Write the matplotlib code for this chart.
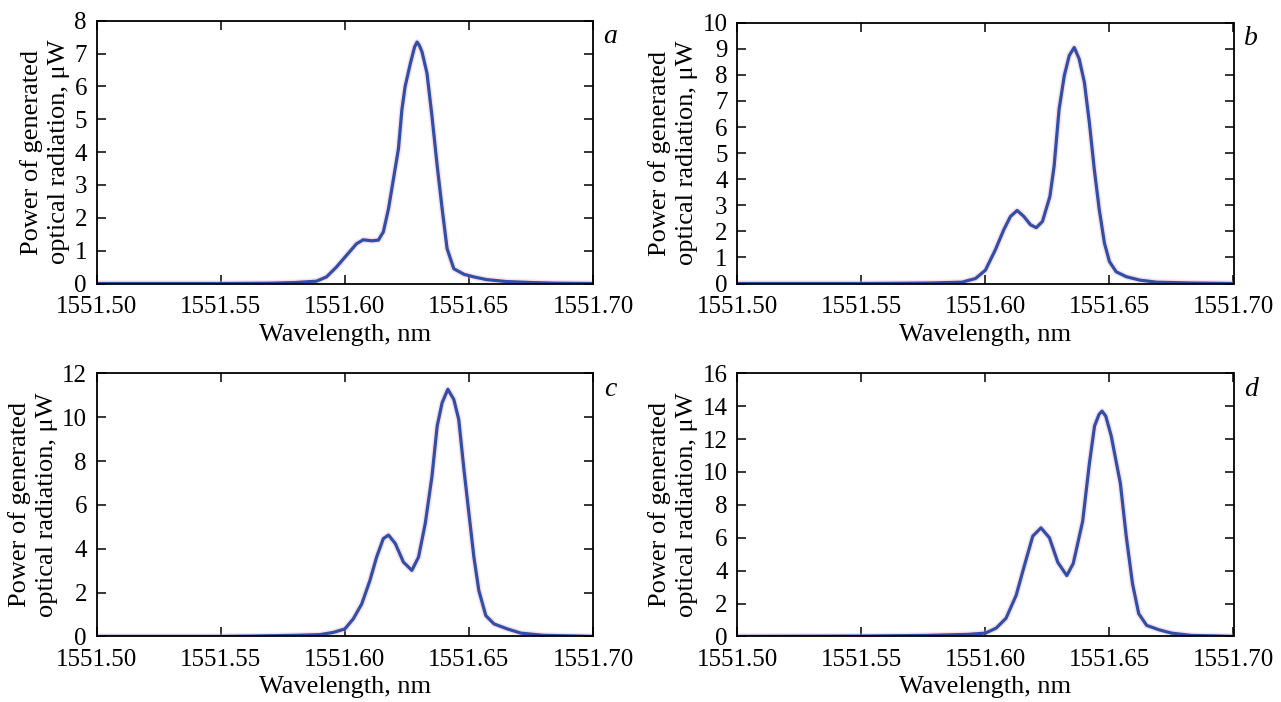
import matplotlib
matplotlib.use("Agg")
import matplotlib.pyplot as plt

plt.rcParams['font.family'] = ['Liberation Serif', 'DejaVu Serif']

# ---- data ----
x_ticks = [1551.50, 1551.55, 1551.60, 1551.65, 1551.70]
x_tick_labels = ["1551.50", "1551.55", "1551.60", "1551.65", "1551.70"]

lam_a = [1551.500, 1551.550, 1551.570, 1551.580, 1551.5885, 1551.5926, 1551.5966, 1551.6007,
         1551.6047, 1551.6074, 1551.6108, 1551.6135, 1551.6155, 1551.6176, 1551.6196, 1551.6216,
         1551.6230, 1551.6243, 1551.6264, 1551.6281, 1551.6291, 1551.6300, 1551.6311, 1551.6331,
         1551.6351, 1551.6372, 1551.6392, 1551.6412, 1551.6439, 1551.6480, 1551.6520, 1551.6570,
         1551.6650, 1551.6750, 1551.6850, 1551.700]
pow_a = [0.0, 0.0, 0.01, 0.03, 0.07, 0.2, 0.5, 0.86,
         1.21, 1.33, 1.30, 1.32, 1.57, 2.28, 3.19, 4.1,
         5.3, 6.0, 6.7, 7.2, 7.35, 7.25, 7.05, 6.4,
         5.1, 3.59, 2.28, 1.06, 0.45, 0.28, 0.2, 0.12,
         0.06, 0.03, 0.01, 0.0]
yticks_a = [0, 1, 2, 3, 4, 5, 6, 7, 8]

lam_b = [1551.50, 1551.55, 1551.566, 1551.578, 1551.5905, 1551.596, 1551.600, 1551.604,
         1551.6074, 1551.6101, 1551.6128, 1551.6155, 1551.6182, 1551.6205, 1551.623, 1551.626,
         1551.6277, 1551.6297, 1551.6318, 1551.6338, 1551.6358, 1551.6378, 1551.6399, 1551.6419,
         1551.6439, 1551.6459, 1551.648, 1551.650, 1551.6527, 1551.6568, 1551.6622, 1551.669,
         1551.683, 1551.70]
pow_b = [0.0, 0.0, 0.01, 0.02, 0.05, 0.19, 0.51, 1.29,
         2.06, 2.57, 2.8, 2.57, 2.25, 2.14, 2.38, 3.34,
         4.5, 6.68, 7.97, 8.74, 9.05, 8.61, 7.71, 6.17,
         4.37, 2.83, 1.54, 0.84, 0.45, 0.26, 0.13, 0.05,
         0.02, 0.0]
yticks_b = [0, 1, 2, 3, 4, 5, 6, 7, 8, 9, 10]

lam_c = [1551.50, 1551.55, 1551.565, 1551.580, 1551.5899, 1551.5953, 1551.600, 1551.6034,
         1551.6068, 1551.6101, 1551.6128, 1551.6155, 1551.6176, 1551.6203, 1551.6236, 1551.627,
         1551.6297, 1551.6324, 1551.6351, 1551.6372, 1551.6392, 1551.6415, 1551.6439, 1551.6459,
         1551.648, 1551.650, 1551.652, 1551.654, 1551.6568, 1551.6601, 1551.6655, 1551.6709,
         1551.680, 1551.70]
pow_c = [0.0, 0.0, 0.02, 0.05, 0.08, 0.18, 0.34, 0.8,
         1.48, 2.55, 3.62, 4.46, 4.62, 4.24, 3.39, 3.01,
         3.62, 5.15, 7.29, 9.59, 10.66, 11.27, 10.81, 9.89,
         7.6, 5.61, 3.62, 2.09, 0.95, 0.57, 0.34, 0.15,
         0.05, 0.0]
yticks_c = [0, 2, 4, 6, 8, 10, 12]

lam_d = [1551.50, 1551.55, 1551.576, 1551.5868, 1551.5926, 1551.600, 1551.6043, 1551.6083,
         1551.6124, 1551.6157, 1551.6191, 1551.6224, 1551.6258, 1551.6292, 1551.6328, 1551.6354,
         1551.6392, 1551.6419, 1551.6440, 1551.6458, 1551.647, 1551.6485, 1551.6507, 1551.6544,
         1551.6568, 1551.6593, 1551.6618, 1551.665, 1551.670, 1551.675, 1551.683, 1551.695,
         1551.70]
pow_d = [0.0, 0.02, 0.06, 0.1, 0.12, 0.2, 0.5, 1.1,
         2.5, 4.3, 6.1, 6.6, 6.0, 4.5, 3.7, 4.43,
         7.0, 10.5, 12.8, 13.5, 13.7, 13.4, 12.2, 9.3,
         6.05, 3.2, 1.38, 0.67, 0.4, 0.2, 0.06, 0.02,
         0.0]
yticks_d = [0, 2, 4, 6, 8, 10, 12, 14, 16]

panel_letters = ["a", "b", "c", "d"]
x_label = "Wavelength, nm"
y_label = "Power of generated\noptical radiation, \u03bcW"

# ---- layout ----
W, H = 1281, 702
fig = plt.figure(figsize=(W / 100, H / 100), dpi=100)

rects = [
    (96.7, 20.7, 593.0, 283.5),
    (737.3, 22.7, 1233.5, 283.5),
    (96.7, 373.3, 593.0, 636.4),
    (737.3, 373.3, 1233.5, 636.4),
]
datasets = [(lam_a, pow_a, yticks_a), (lam_b, pow_b, yticks_b),
            (lam_c, pow_c, yticks_c), (lam_d, pow_d, yticks_d)]

TFS = 18
LFS = 19
for (l, t, r, b), (lam, pw, yt), letter in zip(rects, datasets, panel_letters):
    ax = fig.add_axes([l / W, (H - b) / H, (r - l) / W, (b - t) / H])
    ax.plot(lam, pw, color="#f2a6c4", lw=4.4, alpha=0.35, solid_capstyle="round",
            solid_joinstyle="round")
    ax.plot(lam, pw, color="#3050a8", lw=2.3, solid_joinstyle="round")
    ax.set_xlim(x_ticks[0], x_ticks[-1])
    ax.set_ylim(yt[0], yt[-1])
    ax.set_xticks(x_ticks)
    ax.set_xticklabels(x_tick_labels)
    ax.set_yticks(yt)
    ax.set_yticklabels([str(v) for v in yt])
    ax.tick_params(axis="x", pad=9)
    ax.tick_params(axis="y", pad=7)
    ax.tick_params(direction="in", top=True, right=True, length=6.5, width=1.1,
                   labelsize=TFS, color="black")
    for s in ax.spines.values():
        s.set_linewidth(1.3)
    ax.set_xlabel(x_label, fontsize=LFS, labelpad=4)
    ax.set_ylabel(y_label, fontsize=LFS, labelpad=3, linespacing=1.3)
    ax.text(1.035, 0.94, letter, transform=ax.transAxes, fontsize=20,
            fontstyle="italic", ha="center", va="center")

fig.savefig("out.png", dpi=100)
